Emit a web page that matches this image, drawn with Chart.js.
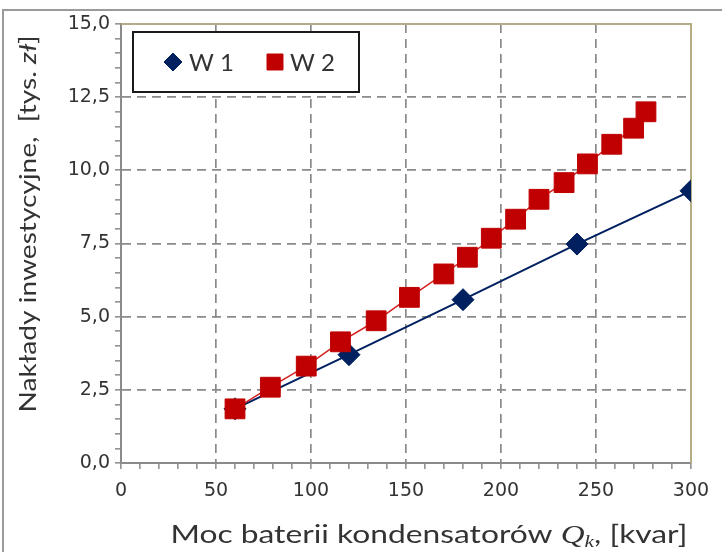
<!DOCTYPE html>
<html>
<head>
<meta charset="utf-8">
<title>Nakłady inwestycyjne</title>
<script src="https://cdn.jsdelivr.net/npm/chart.js@4/dist/chart.umd.min.js"></script>
<style>
  html, body { margin: 0; padding: 0; background: #fff; }
  #wrap { width: 722px; height: 552px; }
</style>
</head>
<body>
<div id="wrap"><canvas id="c" width="722" height="552"></canvas></div>
<script>
// Battery power Qk [kvar] and investment outlay [thousand zł] for both variants
const w1Moc = [60, 120, 180, 240, 300];
const w1Naklady = [1.85, 3.7, 5.58, 7.48, 9.3];

const w2Moc = [60, 78.6, 97.5, 115.5, 134.3, 151.8, 169.9, 182.3, 194.9, 207.7, 220, 233.2, 245.5, 258.3, 269.8, 276.3];
const w2Naklady = [1.85, 2.59, 3.31, 4.14, 4.86, 5.66, 6.46, 7.03, 7.68, 8.33, 9.01, 9.58, 10.22, 10.89, 11.44, 12.0];

const seriesLabels = ['W 1', 'W 2'];

// Axis ranges and labelled steps
const xMin = 0, xMax = 300, xMinorStep = 10, xMajorStep = 50;
const yMin = 0, yMax = 15, yMinorStep = 0.5, yMajorStep = 2.5;

const FONT = 'Lato, "Open Sans", sans-serif';
const TICK_FONT = '"DejaVu Sans", Lato, sans-serif';
const TEXT = '#333333';
const GRID = '#8a8a8a';
const NAVY = '#002060';
const RED = '#c00000';

const toPoints = (xs, ys) => xs.map((x, i) => ({ x: x, y: ys[i] }));
const isMajor = (v, step) => Math.abs(Math.round(v / step) * step - v) < 1e-6;

// Draws a run of text pieces with individual fonts, centred on (cx, baseline),
// optionally widened along the writing direction by sx
function drawRich(ctx, parts, cx, baseline, sx) {
  ctx.save();
  ctx.translate(cx, baseline);
  ctx.scale(sx || 1, 1);
  let total = 0;
  parts.forEach(p => { ctx.font = p.font; p.w = ctx.measureText(p.text).width; total += p.w; });
  let x = -total / 2;
  ctx.textBaseline = 'alphabetic';
  ctx.textAlign = 'left';
  parts.forEach(p => {
    ctx.font = p.font;
    ctx.fillText(p.text, x, p.dy || 0);
    x += p.w;
  });
  ctx.restore();
}

const decorations = {
  id: 'decorations',
  beforeDraw(chart) {
    const ctx = chart.ctx;
    ctx.save();
    ctx.fillStyle = '#ffffff';
    ctx.fillRect(0, 0, chart.width, chart.height);
    // outer frame of the chart object
    ctx.strokeStyle = '#9a9a9a';
    ctx.lineWidth = 2;
    ctx.beginPath();
    ctx.moveTo(3, chart.height);
    ctx.lineTo(3, 10);
    ctx.lineTo(chart.width, 10);
    ctx.stroke();
    ctx.restore();
  },
  beforeDatasetsDraw(chart) {
    const ctx = chart.ctx;
    const a = chart.chartArea;
    ctx.save();
    // top and right edges of the plot area
    ctx.strokeStyle = '#b4ac82';
    ctx.lineWidth = 2;
    ctx.beginPath();
    ctx.moveTo(a.left, a.top);
    ctx.lineTo(a.right, a.top);
    ctx.lineTo(a.right, a.bottom);
    ctx.stroke();

    // legend box
    const bx = 133, by = 32, bw = 226, bh = 60;
    ctx.fillStyle = '#ffffff';
    ctx.fillRect(bx, by, bw, bh);
    ctx.strokeStyle = '#1a1a1a';
    ctx.lineWidth = 2;
    ctx.strokeRect(bx, by, bw, bh);

    const items = [
      { ds: chart.data.datasets[0], mx: 173, tx: 189, r: 9 },
      { ds: chart.data.datasets[1], mx: 275, tx: 290, r: 11.3 }
    ];
    const cy = by + bh / 2;
    items.forEach(it => {
      ctx.fillStyle = it.ds.pointBackgroundColor;
      ctx.strokeStyle = it.ds.pointBorderColor;
      ctx.lineWidth = 1;
      Chart.helpers.drawPoint(ctx, { pointStyle: it.ds.pointStyle, radius: it.r, borderWidth: 1, rotation: 0 }, it.mx, cy);
      ctx.fillStyle = TEXT;
      ctx.font = '24px ' + FONT;
      ctx.textAlign = 'left';
      ctx.textBaseline = 'middle';
      ctx.fillText(it.ds.label, it.tx, cy + 1);
    });
    ctx.restore();
  },
  afterDraw(chart) {
    const ctx = chart.ctx;
    ctx.save();
    ctx.fillStyle = TEXT;
    // x axis title with italic symbol Q_k
    drawRich(ctx, [
      { text: 'Moc baterii kondensatorów ', font: '25px ' + FONT },
      { text: 'Q', font: 'italic 26px "Liberation Serif", serif' },
      { text: 'k', font: 'italic 17px "Liberation Serif", serif', dy: 4 },
      { text: ', [kvar]', font: '25px ' + FONT }
    ], 429, 543, 1.27);
    // y axis title, rotated
    ctx.save();
    ctx.translate(36, 224);
    ctx.rotate(-Math.PI / 2);
    drawRich(ctx, [
      { text: 'Nakłady inwestycyjne,  [tys. ', font: '24px ' + FONT },
      { text: 'zł', font: 'italic 24px ' + FONT },
      { text: ']', font: '24px ' + FONT }
    ], 0, 0, 1.17);
    ctx.restore();
    ctx.restore();
  }
};

function build() {
  new Chart(document.getElementById('c'), {
    type: 'scatter',
    data: {
      datasets: [
        {
          label: seriesLabels[0],
          data: toPoints(w1Moc, w1Naklady),
          order: 1,
          showLine: true,
          borderColor: NAVY,
          borderWidth: 2,
          pointStyle: 'rectRot',
          pointRadius: 11,
          pointBackgroundColor: NAVY,
          pointBorderColor: NAVY,
          pointBorderWidth: 1
        },
        {
          label: seriesLabels[1],
          data: toPoints(w2Moc, w2Naklady),
          order: 0,
          showLine: true,
          borderColor: '#d42020',
          borderWidth: 1.5,
          pointStyle: 'rect',
          pointRadius: 14,
          pointBackgroundColor: RED,
          pointBorderColor: RED,
          pointBorderWidth: 1
        }
      ]
    },
    options: {
      responsive: false,
      animation: false,
      layout: { padding: { left: 0, top: 24, right: 31, bottom: 0 } },
      plugins: {
        legend: { display: false },
        tooltip: { enabled: false }
      },
      scales: {
        x: {
          type: 'linear',
          min: xMin,
          max: xMax,
          afterFit(scale) { scale.height = 89; },
          ticks: {
            stepSize: xMinorStep,
            autoSkip: false,
            maxRotation: 0,
            padding: 11,
            color: TEXT,
            font: { family: TICK_FONT, size: 19 },
            callback: v => isMajor(v, xMajorStep) ? String(v) : ''
          },
          grid: {
            lineWidth: 1.7,
            tickLength: 6,
            tickWidth: 1.5,
            tickColor: GRID,
            color: ctx => {
              const v = ctx.tick ? ctx.tick.value : 0;
              return (isMajor(v, xMajorStep) && v > xMin && v < xMax) ? GRID : 'rgba(0,0,0,0)';
            }
          },
          border: { display: true, color: GRID, width: 2, dash: [9, 6] }
        },
        y: {
          type: 'linear',
          min: yMin,
          max: yMax,
          afterFit(scale) { scale.width = 121; },
          ticks: {
            stepSize: yMinorStep,
            autoSkip: false,
            padding: 5,
            color: TEXT,
            font: { family: TICK_FONT, size: 19 },
            callback: v => isMajor(v, yMajorStep) ? v.toFixed(1).replace('.', ',') : ''
          },
          grid: {
            lineWidth: 1.7,
            tickLength: 6,
            tickWidth: 1.5,
            tickColor: GRID,
            color: ctx => {
              const v = ctx.tick ? ctx.tick.value : 0;
              return (isMajor(v, yMajorStep) && v > yMin && v < yMax) ? GRID : 'rgba(0,0,0,0)';
            }
          },
          border: { display: true, color: GRID, width: 2, dash: [9, 6] }
        }
      }
    },
    plugins: [decorations]
  });
}

if (document.fonts && document.fonts.load) {
  Promise.all([
    document.fonts.load('20px Lato'),
    document.fonts.load('italic 24px Lato'),
    document.fonts.load('19px "DejaVu Sans"'),
    document.fonts.load('italic 26px "Liberation Serif"')
  ]).then(build, build);
} else {
  build();
}
</script>
</body>
</html>
